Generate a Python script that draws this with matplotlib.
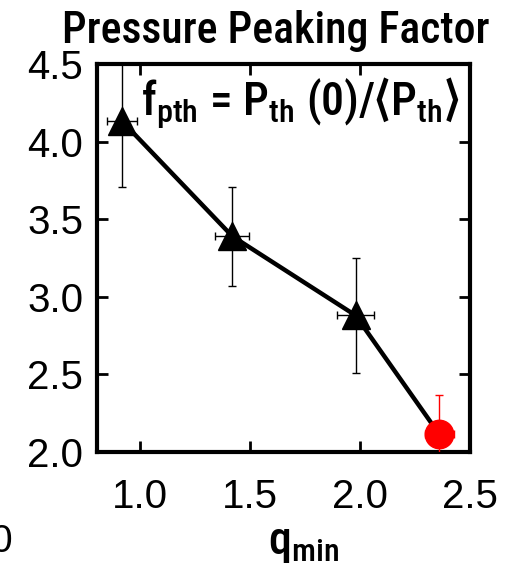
import matplotlib

matplotlib.use("Agg")
import matplotlib.pyplot as plt

# measured points (triangles) and the red reference point
q_min = [0.92, 1.42, 1.98]
f_pth = [4.13, 3.39, 2.88]
q_err = [0.068, 0.077, 0.085]
f_err = [0.42, 0.32, 0.37]

q_red = [2.36]
f_red = [2.115]
q_red_err = [0.066]
f_red_err = [0.25]

x_ticks = [1.0, 1.5, 2.0, 2.5]
y_ticks = [2.0, 2.5, 3.0, 3.5, 4.0, 4.5]

NARROW = ["Roboto Condensed", "DejaVu Sans"]
plt.rcParams["font.family"] = ["Liberation Sans", "DejaVu Sans"]
plt.rcParams["mathtext.fontset"] = "custom"
plt.rcParams["mathtext.rm"] = "Roboto Condensed:medium"
plt.rcParams["mathtext.it"] = "Roboto Condensed:medium"
plt.rcParams["mathtext.bf"] = "Roboto Condensed:bold"

fig = plt.figure(figsize=(5.08, 5.72), dpi=100)
ax = fig.add_axes([0.191, 0.21, 0.734, 0.678])

# line through all four points
ax.plot(q_min + q_red, f_pth + f_red, color="black", lw=3.2, zorder=2)
ax.errorbar(q_min, f_pth, xerr=q_err, yerr=f_err, fmt="none", ecolor="black",
            elinewidth=1, capsize=3, capthick=1, zorder=3)
ax.plot(q_min, f_pth, "^", color="black", ms=20, zorder=4)
ax.errorbar(q_red, f_red, xerr=q_red_err, yerr=f_red_err, fmt="none",
            ecolor="red", elinewidth=1, capsize=3, capthick=1, zorder=3)
ax.plot(q_red, f_red, "o", color="red", ms=20.5, zorder=4)

ax.set_xlim(0.805, 2.5)
ax.set_ylim(2.0, 4.5)
ax.set_xticks(x_ticks)
ax.set_yticks(y_ticks)
ax.set_xticklabels([f"{v:.1f}" for v in x_ticks])
ax.set_yticklabels([f"{v:.1f}" for v in y_ticks])
ax.tick_params(direction="in", length=8, width=2, labelsize=29, pad=10,
               top=True, right=True)
ax.tick_params(axis="x", pad=19)
for sp in ax.spines.values():
    sp.set_linewidth(3)

fig.text(0.542, 0.925, "Pressure Peaking Factor", family=NARROW,
         fontsize=31.5, fontweight="medium", ha="center", va="baseline")
ax.text(0.545, 0.868,
        r"f$_{\rm pth}$ = P$_{\rm th}$ (0)/$\langle$P$_{\rm th}$$\rangle$",
        transform=ax.transAxes, ha="center", va="baseline", family=NARROW,
        fontsize=33, fontweight="medium")
ax.set_xlabel(r"q$_{\rm min}$", family=NARROW, fontsize=33,
              fontweight="medium", labelpad=4, x=0.555)

# leftover tick label from the neighbouring panel
fig.text(0.024, 0.052, "0", fontsize=28, ha="right", va="center")

fig.savefig("out.png", dpi=100)
